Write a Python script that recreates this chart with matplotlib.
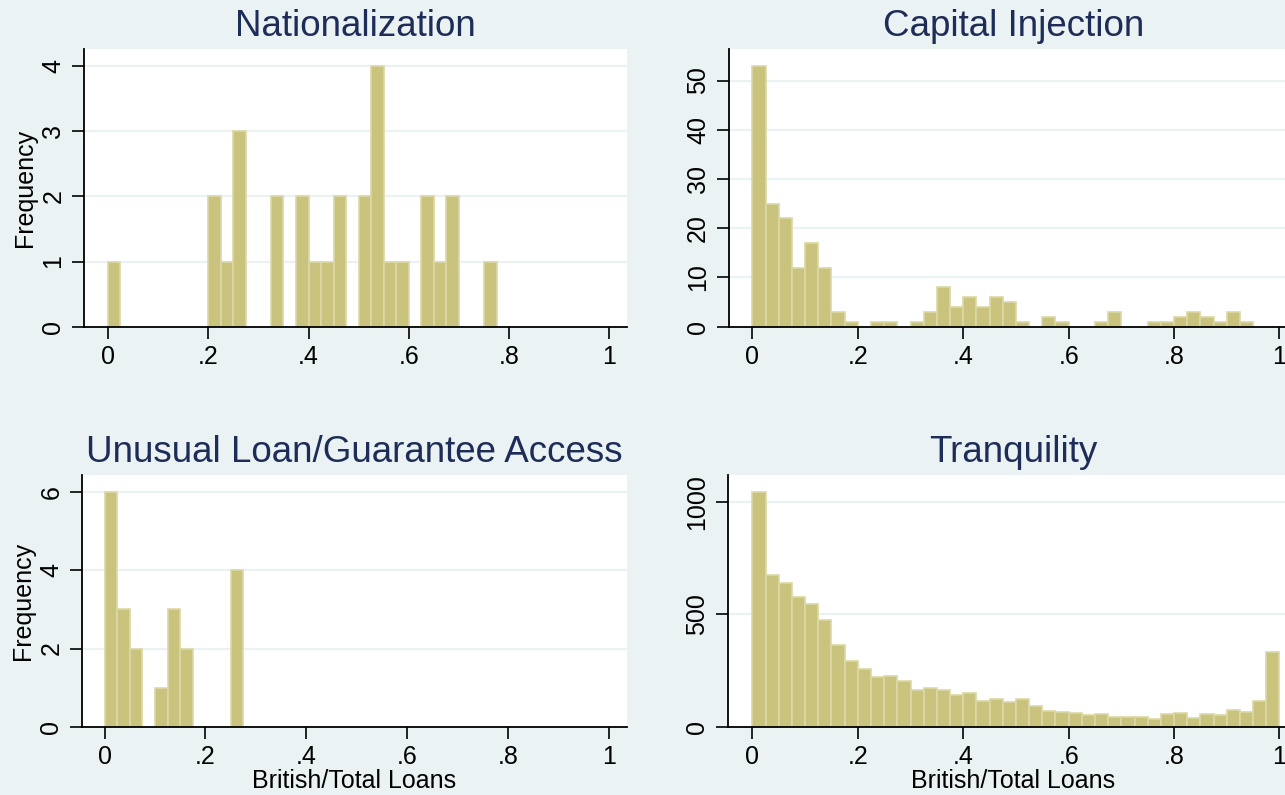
import numpy as np
import matplotlib.pyplot as plt

plt.rcParams['font.family'] = ['Liberation Sans', 'DejaVu Sans']

# 40 bins of width .025 on [0, 1]
bin_edges = np.linspace(0, 1, 41)
x_ticks = [0, .2, .4, .6, .8, 1]
x_ticklabels = ['0', '.2', '.4', '.6', '.8', '1']

nationalization = [1, 0, 0, 0, 0, 0, 0, 0, 2, 1, 3, 0, 0, 2, 0, 2, 1, 1, 2, 0,
                   2, 4, 1, 1, 0, 2, 1, 2, 0, 0, 1, 0, 0, 0, 0, 0, 0, 0, 0, 0]
capital_injection = [53, 25, 22, 12, 17, 12, 3, 1, 0, 1, 1, 0, 1, 3, 8, 4, 6, 4, 6, 5,
                     1, 0, 2, 1, 0, 0, 1, 3, 0, 0, 1, 1, 2, 3, 2, 1, 3, 1, 0, 0]
unusual_access = [6, 3, 2, 0, 1, 3, 2, 0, 0, 0, 4, 0, 0, 0, 0, 0, 0, 0, 0, 0,
                  0, 0, 0, 0, 0, 0, 0, 0, 0, 0, 0, 0, 0, 0, 0, 0, 0, 0, 0, 0]
tranquility = [1043, 676, 639, 577, 546, 475, 364, 293, 257, 222,
               226, 203, 163, 173, 163, 143, 148, 115, 124, 110,
               124, 92, 71, 64, 60, 51, 56, 41, 45, 44,
               35, 55, 63, 40, 55, 51, 75, 67, 113, 334]

bg = '#EAF2F3'
bar_fill = '#CAC37E'
bar_edge = '#DCD8A6'
title_color = '#1E2C58'

W, H = 1285, 795
fig = plt.figure(figsize=(W / 100, H / 100), dpi=100, facecolor=bg)


def panel(box, counts, title, yticks, ymax, xlim, ylabel=False, xlabel=False):
    left, top, right, bottom = box
    ax = fig.add_axes([left / W, 1 - bottom / H, (right - left) / W, (bottom - top) / H])
    ax.set_facecolor('white')
    counts = np.asarray(counts)
    keep = counts > 0
    ax.bar(bin_edges[:-1][keep], counts[keep], width=np.diff(bin_edges)[keep], align='edge',
           color=bar_fill, edgecolor=bar_edge, linewidth=1.2)
    ax.set_xlim(*xlim)
    ax.set_ylim(0, ymax)
    ax.set_xticks(x_ticks)
    ax.set_xticklabels(x_ticklabels)
    ax.set_yticks(yticks)
    ax.set_yticklabels([str(v) for v in yticks], rotation=90, va='center')
    ax.tick_params(direction='out', length=8.5, width=1.2, labelsize=18, pad=5, colors='black')
    ax.yaxis.grid(True, color=bg, linewidth=1.6)
    ax.set_axisbelow(True)
    for side in ['top', 'right']:
        ax.spines[side].set_visible(False)
    for side in ['left', 'bottom']:
        ax.spines[side].set_linewidth(1.3)
        ax.spines[side].set_color('black')
    ax.set_title(title, fontsize=26.5, color=title_color, pad=9)
    if ylabel:
        ax.set_ylabel('Frequency', fontsize=18, labelpad=3)
    if xlabel:
        ax.set_xlabel('British/Total Loans', fontsize=18, labelpad=0)
    return ax


panel((84, 49, 626.5, 326.7), nationalization, 'Nationalization',
      [0, 1, 2, 3, 4], 4.26, (-0.0477, 1.034), ylabel=True)
panel((729, 49, 1299, 326.7), capital_injection, 'Capital Injection',
      [0, 10, 20, 30, 40, 50], 56.4, (-0.0444, 1.037))
panel((82, 475, 626.5, 726.7), unusual_access, 'Unusual Loan/Guarantee Access',
      [0, 2, 4, 6], 6.44, (-0.0446, 1.034), ylabel=True, xlabel=True)
panel((728, 475, 1299, 726.7), tranquility, 'Tranquility',
      [0, 500, 1000], 1120, (-0.0463, 1.037), xlabel=True)

fig.savefig('out.png', dpi=100, facecolor=bg)
